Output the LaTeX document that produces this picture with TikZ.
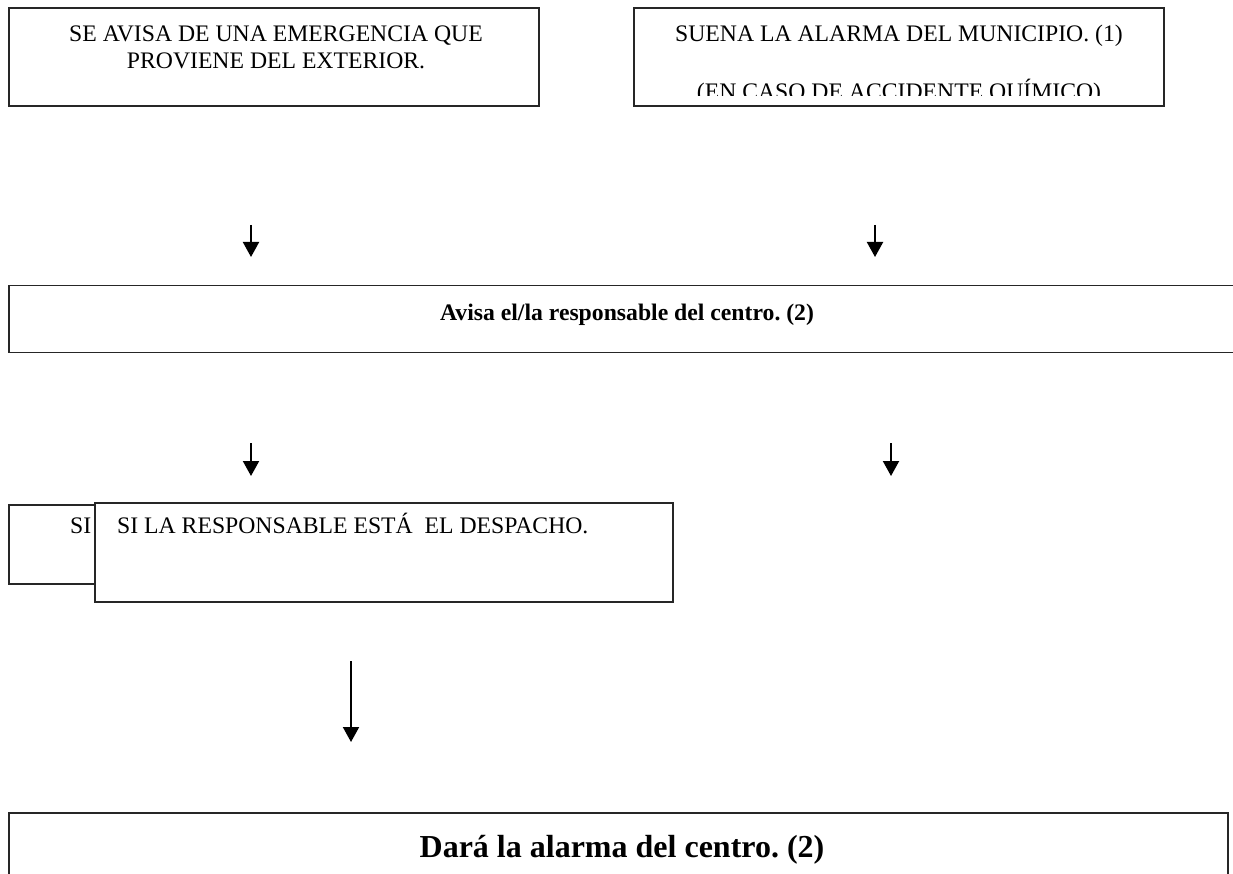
\documentclass[tikz,border=0pt]{standalone}
\usepackage{fontspec}
\setmainfont{Liberation Serif}
\usetikzlibrary{arrows.meta}
\frenchspacing
\begin{document}
\begin{tikzpicture}[x=1pt,y=-1pt,
  box/.style={draw=black!85, line width=1.4pt, fill=white, inner sep=0pt, rectangle},
  txt/.style={inner sep=0pt, anchor=base, font=\fontsize{23.7}{27}\selectfont},
  btxt/.style={inner sep=0pt, anchor=base, font=\fontsize{23.7}{27}\selectfont\bfseries},
  bigtxt/.style={inner sep=0pt, anchor=base, font=\fontsize{32}{36}\selectfont\bfseries},
  arr/.style={line width=2pt, -{Triangle[length=15pt,width=16pt]}}]
\useasboundingbox (0,0) rectangle (1233,874);
% top boxes
\node[box, minimum width=530pt, minimum height=98pt] (b1) at (274,57) {};
\node[txt] (t1a) at (276,41.5) {SE AVISA DE UNA EMERGENCIA QUE};
\node[txt] (t1b) at (276,68.5) {PROVIENE DEL EXTERIOR.};
\node[box, minimum width=530pt, minimum height=98pt] (b2) at (899,57) {};
\node[txt] (t2a) at (899,41.5) {SUENA LA ALARMA DEL MUNICIPIO. (1)};
\begin{scope}
  \clip (634,8) rectangle (1164,96);
  \node[txt] (t2b) at (899,100) {(EN CASO DE ACCIDENTE QUÍMICO)};
\end{scope}
% arrows row 1
\coordinate (a1s) at (251,225); \coordinate (a1e) at (251,257);
\coordinate (a2s) at (875,225); \coordinate (a2e) at (875,257);
\draw[arr] (a1s) -- (a1e);
\draw[arr] (a2s) -- (a2e);
% middle box
\node[box, minimum width=1291pt, minimum height=67pt] (b3) at (654.5,319) {};
\node[btxt] (t3) at (627,320.5) {Avisa el/la responsable del centro. (2)};
% arrows row 2
\coordinate (a3s) at (251,443); \coordinate (a3e) at (251,476);
\coordinate (a4s) at (891,443); \coordinate (a4e) at (891,476);
\draw[arr] (a3s) -- (a3e);
\draw[arr] (a4s) -- (a4e);
% overlapping boxes
\node[box, minimum width=91pt, minimum height=79pt] (b4) at (54.5,544.5) {};
\node[txt, anchor=base west] (t4) at (70,533.5) {SI};
\node[box, minimum width=578pt, minimum height=99pt] (b5) at (384,552.5) {};
\node[txt, anchor=base west] (t5) at (117,533.5) {SI LA RESPONSABLE ESTÁ\ \ EL DESPACHO.};
% long arrow
\coordinate (a5s) at (351,661); \coordinate (a5e) at (351,742);
\draw[arr] (a5s) -- (a5e);
% bottom box
\node[box, minimum width=1219pt, minimum height=85pt] (b6) at (618.5,855.5) {};
\node[bigtxt] (t6) at (622,857) {Dará la alarma del centro. (2)};
\end{tikzpicture}
\end{document}
